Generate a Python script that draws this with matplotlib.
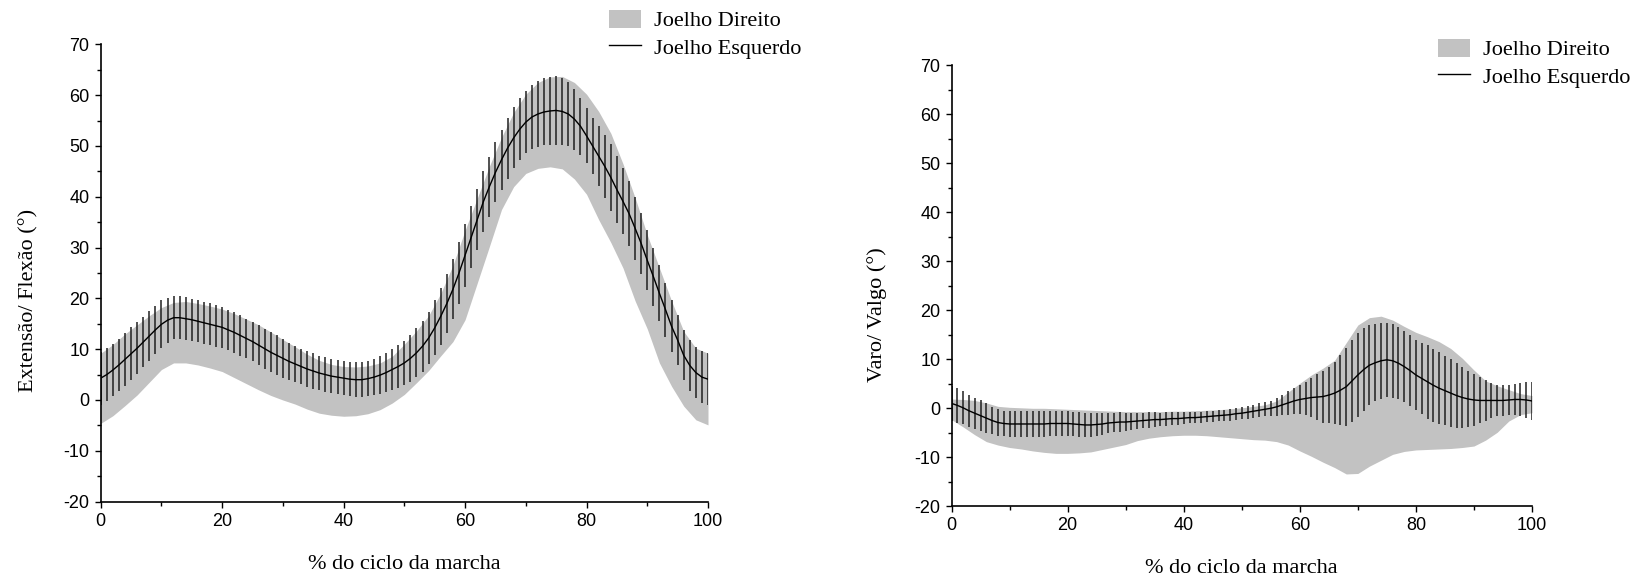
import numpy as np
import matplotlib
matplotlib.use("Agg")
from matplotlib import pyplot as plt
from matplotlib.patches import Patch
from matplotlib.lines import Line2D
from matplotlib.ticker import MultipleLocator

plt.rcParams["axes.unicode_minus"] = False

# gait cycle (%)
pct = np.arange(0, 101, 1)
pct_band = np.arange(0, 101, 2)

# ---- sagittal plane: Extensão / Flexão ----
# Joelho Esquerdo, mean and SD at each 1 %
flex_esq_mean = [
    4.3, 5.0, 5.9, 6.9, 8.0, 9.1, 10.2, 11.4, 12.6, 13.8,
    14.9, 15.7, 16.2, 16.2, 16.0, 15.8, 15.5, 15.2, 14.9, 14.6,
    14.3, 13.8, 13.3, 12.7, 12.1, 11.5, 10.8, 10.1, 9.4, 8.8,
    8.2, 7.6, 7.1, 6.6, 6.1, 5.7, 5.3, 5.0, 4.7, 4.5,
    4.3, 4.1, 4.0, 4.0, 4.2, 4.5, 4.9, 5.4, 6.0, 6.6,
    7.3, 8.2, 9.3, 10.6, 12.2, 14.2, 16.5, 19.0, 21.8, 25.0,
    28.5, 32.0, 35.5, 39.0, 42.0, 44.8, 47.3, 49.6, 51.6, 53.3,
    54.7, 55.7, 56.3, 56.7, 56.9, 57.0, 56.8, 56.3, 55.3, 53.9,
    52.0, 50.0, 48.0, 46.0, 43.8, 41.4, 39.1, 36.7, 33.8, 30.8,
    27.5, 24.3, 21.0, 17.8, 14.5, 11.8, 8.8, 6.8, 5.4, 4.5,
    4.1]
flex_esq_sd = [
    5.2, 5.2, 5.2, 5.2, 5.2, 5.2, 5.1, 5.0, 4.9, 4.8,
    4.7, 4.4, 4.2, 4.2, 4.2, 4.1, 4.1, 4.1, 4.1, 4.1,
    4.1, 4.0, 4.0, 4.0, 3.9, 3.9, 3.9, 3.9, 3.9, 3.9,
    3.8, 3.6, 3.5, 3.5, 3.5, 3.5, 3.4, 3.4, 3.4, 3.4,
    3.4, 3.4, 3.4, 3.5, 3.5, 3.6, 3.8, 3.9, 4.1, 4.2,
    4.4, 4.6, 4.8, 5.0, 5.2, 5.4, 5.6, 5.8, 5.9, 6.1,
    6.2, 6.1, 6.0, 6.0, 5.9, 5.9, 5.9, 6.0, 6.0, 6.1,
    6.1, 6.3, 6.5, 6.6, 6.7, 6.8, 6.6, 6.3, 6.0, 5.6,
    5.4, 5.6, 5.9, 6.2, 6.5, 6.6, 6.5, 6.4, 6.2, 6.0,
    5.9, 5.7, 5.5, 5.3, 5.1, 4.9, 4.9, 5.0, 5.0, 5.1,
    5.1]
# Joelho Direito, band limits at each 2 %
flex_dir_low = [
    -4.6, -3.1, -1.1, 1.0, 3.5, 6.0, 7.3, 7.3, 6.9, 6.3,
    5.6, 4.4, 3.2, 2.0, 0.9, 0.0, -0.8, -1.8, -2.6, -3.0,
    -3.2, -3.1, -2.7, -1.9, -0.6, 1.1, 3.4, 5.8, 8.7, 11.5,
    15.8, 23.0, 30.2, 37.5, 42.0, 44.6, 45.6, 45.9, 45.5, 43.5,
    40.5, 35.5, 31.0, 26.0, 19.5, 14.0, 7.3, 2.7, -1.2, -3.9,
    -4.9]
flex_dir_high = [
    9.2, 10.9, 13.0, 14.8, 16.6, 18.2, 19.2, 19.4, 19.0, 18.5,
    17.9, 17.0, 15.9, 14.8, 13.4, 11.9, 10.5, 9.0, 7.8, 7.0,
    6.6, 6.5, 6.7, 7.3, 8.6, 11.0, 13.6, 16.6, 21.0, 26.5,
    33.4, 39.7, 46.0, 51.7, 56.6, 60.2, 62.5, 63.6, 63.7, 62.5,
    60.2, 56.8, 52.5, 46.5, 39.8, 32.5, 26.0, 19.5, 13.5, 10.2,
    9.2]

# ---- frontal plane: Varo / Valgo ----
varo_esq_mean = [
    1.0, 0.6, 0.1, -0.5, -1.0, -1.5, -2.0, -2.5, -2.9, -3.1,
    -3.2, -3.2, -3.2, -3.2, -3.2, -3.2, -3.2, -3.1, -3.1, -3.1,
    -3.1, -3.2, -3.3, -3.4, -3.4, -3.3, -3.2, -3.0, -2.9, -2.8,
    -2.8, -2.7, -2.6, -2.5, -2.4, -2.3, -2.3, -2.2, -2.1, -2.1,
    -2.0, -1.9, -1.9, -1.8, -1.7, -1.6, -1.5, -1.4, -1.3, -1.1,
    -1.0, -0.8, -0.6, -0.4, -0.2, 0.0, 0.3, 0.7, 1.1, 1.5,
    1.8, 2.0, 2.2, 2.3, 2.4, 2.7, 3.1, 3.7, 4.4, 5.6,
    6.8, 7.9, 8.8, 9.3, 9.7, 9.9, 9.7, 9.2, 8.5, 7.7,
    6.8, 6.1, 5.4, 4.7, 4.1, 3.6, 3.1, 2.6, 2.2, 1.9,
    1.7, 1.6, 1.6, 1.6, 1.6, 1.6, 1.7, 1.8, 1.8, 1.7,
    1.5]
varo_esq_sd = [
    3.6, 3.5, 3.4, 3.3, 3.2, 3.1, 3.0, 2.8, 2.7, 2.6,
    2.6, 2.6, 2.6, 2.6, 2.6, 2.6, 2.6, 2.6, 2.6, 2.6,
    2.6, 2.5, 2.5, 2.4, 2.4, 2.3, 2.2, 2.1, 2.0, 2.0,
    1.9, 1.8, 1.7, 1.6, 1.6, 1.5, 1.4, 1.4, 1.3, 1.3,
    1.2, 1.2, 1.2, 1.1, 1.1, 1.1, 1.1, 1.1, 1.2, 1.2,
    1.2, 1.3, 1.3, 1.4, 1.4, 1.5, 1.8, 2.1, 2.4, 2.6,
    2.9, 3.4, 4.0, 4.6, 5.3, 5.8, 6.3, 7.2, 8.0, 8.3,
    8.5, 8.4, 8.2, 7.9, 7.7, 7.6, 7.5, 7.4, 7.3, 7.2,
    7.1, 7.3, 7.5, 7.4, 7.3, 7.1, 6.9, 6.6, 6.3, 5.8,
    5.3, 4.7, 4.1, 3.6, 3.1, 3.1, 3.1, 3.2, 3.4, 3.6,
    3.8]
varo_dir_low = [
    -2.3, -3.8, -5.4, -6.8, -7.5, -8.0, -8.3, -8.7, -9.0, -9.2,
    -9.2, -9.1, -8.9, -8.4, -7.9, -7.4, -6.6, -6.1, -5.8, -5.6,
    -5.5, -5.5, -5.6, -5.8, -6.0, -6.2, -6.4, -6.5, -6.8, -7.5,
    -8.7, -9.8, -11.0, -12.1, -13.4, -13.3, -11.8, -10.6, -9.4, -8.8,
    -8.5, -8.4, -8.3, -8.2, -8.0, -7.7, -6.5, -4.9, -2.6, -1.3,
    -0.9]
varo_dir_high = [
    1.9, 1.8, 1.6, 1.1, 0.4, 0.2, 0.1, 0.0, 0.0, -0.1,
    -0.2, -0.3, -0.4, -0.5, -0.6, -0.7, -0.7, -0.7, -0.7, -0.6,
    -0.6, -0.5, -0.4, -0.3, -0.1, 0.1, 0.4, 0.7, 1.5, 3.3,
    5.1, 6.8, 8.2, 9.8, 13.4, 17.0, 18.5, 18.8, 18.0, 16.7,
    15.5, 14.6, 13.6, 12.2, 10.2, 7.8, 5.6, 4.6, 3.8, 3.0,
    2.6]

x_label = "% do ciclo da marcha"
legend_labels = ["Joelho Direito", "Joelho Esquerdo"]

band_color = "#c2c2c2"
tick_font = "Liberation Sans"
text_font = "Liberation Serif"

W, H = 1634, 579
fig = plt.figure(figsize=(W / 100, H / 100), dpi=100)


def make_panel(rect, ylabel, band_lo, band_hi, mean, sd, leg_pos, ylab_xy):
    ax = fig.add_axes(rect)
    ax.fill_between(pct_band, band_lo, band_hi, color=band_color, lw=0)
    ax.errorbar(pct, mean, yerr=sd, fmt="none", ecolor="#202020",
                elinewidth=1.1, capsize=0)
    ax.plot(pct, mean, color="black", lw=1.0)

    ax.set_xlim(0, 100)
    ax.set_ylim(-20, 70)
    ax.xaxis.set_major_locator(MultipleLocator(20))
    ax.xaxis.set_minor_locator(MultipleLocator(10))
    ax.yaxis.set_major_locator(MultipleLocator(10))
    ax.yaxis.set_minor_locator(MultipleLocator(5))
    for s in ["top", "right"]:
        ax.spines[s].set_visible(False)
    for s in ["left", "bottom"]:
        ax.spines[s].set_linewidth(1.2)
    ax.tick_params(which="major", direction="out", length=4.5, width=1.0,
                   labelsize=13)
    ax.tick_params(which="minor", direction="out", length=2.8, width=1.0)
    for lab in ax.get_xticklabels() + ax.get_yticklabels():
        lab.set_fontfamily(tick_font)

    ax.set_xlabel(x_label, fontsize=16, family=text_font, labelpad=18)
    ax.set_ylabel(ylabel, fontsize=16, family=text_font)
    ax.yaxis.set_label_coords(*ylab_xy)

    handles = [Patch(facecolor=band_color, edgecolor="none"),
               Line2D([], [], color="black", lw=1.0)]
    ax.legend(handles, legend_labels, loc="upper left",
              bbox_to_anchor=leg_pos, bbox_transform=fig.transFigure,
              frameon=False, prop={"family": text_font, "size": 16},
              handlelength=1.45, handleheight=0.85, handletextpad=0.6,
              labelspacing=0.25, borderaxespad=0)
    return ax


# axes rectangles from pixel positions of the plot frames
left_rect = [100.7 / W, (H - 501.6) / H, 607.3 / W, 457.2 / H]
right_rect = [951.5 / W, (H - 506.3) / H, 580.5 / W, 441.0 / H]

make_panel(left_rect, "Extensão/ Flexão (°)", flex_dir_low, flex_dir_high,
           flex_esq_mean, flex_esq_sd, (600 / W, 1 - 1 / H), (-0.102, 0.44))
make_panel(right_rect, "Varo/ Valgo (°)", varo_dir_low, varo_dir_high,
           varo_esq_mean, varo_esq_sd, (1429 / W, 1 - 30 / H), (-0.111, 0.434))

fig.savefig("out.png", dpi=100)
